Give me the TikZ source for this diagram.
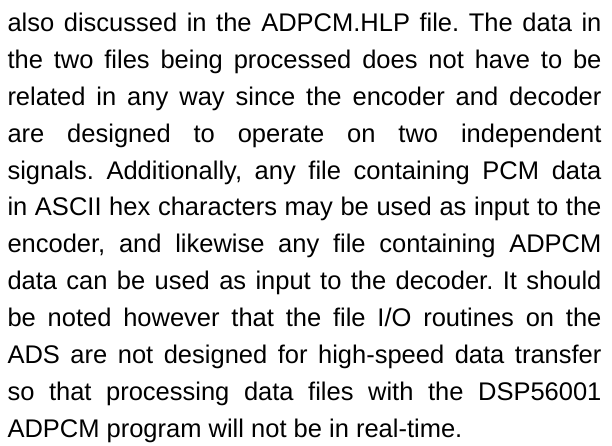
\documentclass[tikz,border=0pt]{standalone}
\usepackage{fontspec}
\setmainfont{Liberation Sans}
\begin{document}
\begin{tikzpicture}[x=1pt,y=1pt,
  textline/.style={anchor=base west, inner sep=0pt, outer sep=0pt,
    font=\fontsize{25.5pt}{36.85pt}\selectfont\frenchspacing},
  full/.style={textline}]
\useasboundingbox (0,0) rectangle (612,446);
\fill[white] (0,0) rectangle (612,446);
% justified lines: each spread to the full text width
\newcommand{\jline}[1]{\makebox[594pt][s]{#1}}
\node[full] (l1)  at (7.5,414.3) {\jline{also discussed in the ADPCM.HLP file. The data in}};
\node[full] (l2)  at (7.5,377.45) {\jline{the two files being processed does not have to be}};
\node[full] (l3)  at (7.5,340.6) {\jline{related in any way since the encoder and decoder}};
\node[full] (l4)  at (7.5,303.75) {\jline{are designed to operate on two independent}};
\node[full] (l5)  at (7.5,266.9) {\jline{signals. Additionally, any file containing PCM data}};
\node[full] (l6)  at (7.5,230.05) {\jline{in ASCII hex characters may be used as input to the}};
\node[full] (l7)  at (7.5,193.2) {\jline{encoder, and likewise any file containing ADPCM}};
\node[full] (l8)  at (7.5,156.35) {\jline{data can be used as input to the decoder. It should}};
\node[full] (l9)  at (7.5,119.5) {\jline{be noted however that the file I/O routines on the}};
\node[full] (l10) at (7.5,82.65) {\jline{ADS are not designed for high-speed data transfer}};
\node[full] (l11) at (7.5,45.8) {\jline{so that processing data files with the DSP56001}};
% last line of the paragraph, set flush left
\node[textline] (l12) at (7.5,8.95) {ADPCM program will not be in real-time.};
\end{tikzpicture}
\end{document}
